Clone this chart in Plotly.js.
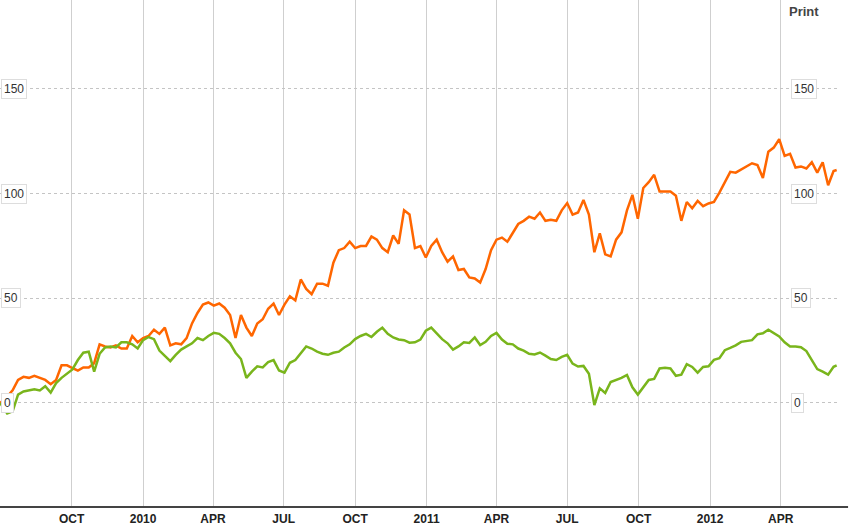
<!DOCTYPE html>
<html>
<head>
<meta charset="utf-8">
<script src="https://cdn.plot.ly/plotly-3.0.1.min.js"></script>
<style>
html,body{margin:0;padding:0;background:#fff;}
#chart{width:850px;height:530px;}
</style>
</head>
<body>
<div id="chart"></div>
<script>
var dates = [
'2009-07-01','2009-07-10','2009-07-17','2009-07-24','2009-07-31',
'2009-08-07','2009-08-14','2009-08-21','2009-08-28',
'2009-09-04','2009-09-11','2009-09-18','2009-09-25',
'2009-10-02','2009-10-09','2009-10-16','2009-10-23','2009-10-30',
'2009-11-06','2009-11-13','2009-11-20','2009-11-27',
'2009-12-04','2009-12-11','2009-12-18','2009-12-25',
'2010-01-01','2010-01-08','2010-01-15','2010-01-22','2010-01-29',
'2010-02-05','2010-02-12','2010-02-19','2010-02-26',
'2010-03-05','2010-03-12','2010-03-19','2010-03-26',
'2010-04-02','2010-04-09','2010-04-16','2010-04-23','2010-04-30',
'2010-05-07','2010-05-14','2010-05-21','2010-05-28',
'2010-06-04','2010-06-11','2010-06-18','2010-06-25',
'2010-07-02','2010-07-09','2010-07-16','2010-07-23','2010-07-30',
'2010-08-06','2010-08-13','2010-08-20','2010-08-27',
'2010-09-03','2010-09-10','2010-09-17','2010-09-24',
'2010-10-01','2010-10-08','2010-10-15','2010-10-22','2010-10-29',
'2010-11-05','2010-11-12','2010-11-19','2010-11-26',
'2010-12-03','2010-12-10','2010-12-17','2010-12-24','2010-12-31',
'2011-01-07','2011-01-14','2011-01-21','2011-01-28',
'2011-02-04','2011-02-11','2011-02-18','2011-02-25',
'2011-03-04','2011-03-11','2011-03-18','2011-03-25',
'2011-04-01','2011-04-08','2011-04-15','2011-04-22','2011-04-29',
'2011-05-06','2011-05-13','2011-05-20','2011-05-27',
'2011-06-03','2011-06-10','2011-06-17','2011-06-24',
'2011-07-01','2011-07-08','2011-07-15','2011-07-22','2011-07-29',
'2011-08-05','2011-08-12','2011-08-19','2011-08-26',
'2011-09-02','2011-09-09','2011-09-16','2011-09-23','2011-09-30',
'2011-10-07','2011-10-14','2011-10-21','2011-10-28',
'2011-11-04','2011-11-11','2011-11-18','2011-11-25',
'2011-12-02','2011-12-09','2011-12-16','2011-12-23','2011-12-30',
'2012-01-06','2012-01-13','2012-01-20','2012-01-27',
'2012-02-03','2012-02-10','2012-02-17','2012-02-24',
'2012-03-02','2012-03-09','2012-03-16','2012-03-23','2012-03-30',
'2012-04-06','2012-04-13','2012-04-20','2012-04-27',
'2012-05-04','2012-05-11','2012-05-18','2012-05-25',
'2012-06-01','2012-06-08','2012-06-12'
];

var orangeValues = [
0, 3, 6, 11, 12.5,
12, 13, 12, 11,
9, 11, 18, 18,
16.7, 15.5, 17, 17, 19,
28, 27, 26.5, 27.5,
26, 26, 32, 29,
31, 32, 35, 33, 36,
27.5, 28.5, 28, 31,
38, 43, 47, 48,
46.5, 47.5, 45.5, 42, 31,
42, 36, 32, 38,
40, 45, 47.5, 42,
47, 51, 49, 59, 54.5,
52, 57, 57, 56,
67, 73, 74, 77,
74, 75, 75, 79.5, 78,
74, 72, 80, 76,
92, 90, 74, 75, 69.5,
75, 78, 72, 67.5,
70, 63.5, 64, 60,
59.5, 57.5, 64, 73,
78, 79, 77, 81.5, 85.5,
87, 89, 88, 91,
87, 87.5, 87, 92,
95.5, 90, 91, 97, 90,
72, 81, 71, 70,
78, 81.5, 92, 99.4, 88,
102.7, 105.5, 109, 101,
101, 101, 99, 87,
96, 93, 96.5, 94, 95.3,
96, 100.5, 105.5, 110.4,
110, 111.5, 113, 114.5,
113.7, 107.5, 120, 122, 126,
118, 119, 112.5, 113,
112, 115, 110, 115,
104, 110.8, 111.3
];

var greenValues = [
0, -5, -4, 4, 5.5,
6, 6.5, 6, 8,
5, 9.5, 12, 14,
16, 20.5, 24, 24.5, 15,
23.5, 26.5, 27, 26.5,
29, 29, 28, 26,
30, 31.5, 30.5, 25, 22.5,
20, 23, 25.5, 27,
28.5, 31, 30, 32,
33.5, 33, 31, 28.5, 24,
21, 12, 15, 17.5,
17, 19.5, 20.5, 15.5,
14.5, 19.2, 20.5, 24, 27,
26, 24.5, 23.5, 23,
24, 24.5, 26.5, 28,
30.5, 32, 33, 31.5, 34,
36, 33, 31.3, 30.3,
30, 28.8, 29, 30.3, 34.5,
36, 33.3, 30.5, 28.5,
25.5, 27, 29, 28.7,
31.3, 27.7, 29.2, 32,
33.5, 30.3, 28.3, 28, 26,
25, 23.5, 23.2, 24.1,
22.6, 21, 20.5, 22,
23, 18.8, 17.4, 17.7, 14,
-1, 7, 4.8, 10,
11, 12, 13.4, 7.5, 4,
7.8, 11, 11.5, 16.5,
16.8, 16.5, 13, 13.5,
18.5, 17.2, 14.5, 17.2, 17.5,
20.6, 21.4, 25.2, 26.3,
27.5, 29.2, 29.7, 30,
32.8, 33.3, 35, 33.5, 31.8,
29, 27, 27, 26.6,
24.8, 20.8, 16.2, 15,
13.5, 17.3, 18
];

var tickDates = ['2009-10-01','2010-01-01','2010-04-01','2010-07-01','2010-10-01','2011-01-01','2011-04-01','2011-07-01','2011-10-01','2012-01-01','2012-04-01'];
var tickLabels = ['OCT','2010','APR','JUL','OCT','2011','APR','JUL','OCT','2012','APR'];
var yTicks = [0, 50, 100, 150];
var yTickLabels = ['0', '50', '100', '150'];

var traces = [
  {x: dates, y: orangeValues, type: 'scatter', mode: 'lines',
   line: {color: '#ff6600', width: 2.5}, hoverinfo: 'skip'},
  {x: dates, y: greenValues, type: 'scatter', mode: 'lines',
   line: {color: '#79b51c', width: 2.5}, hoverinfo: 'skip'}
];

var annotations = [];
yTicks.forEach(function(v, k){
  var base = {yref: 'y', y: v, xref: 'paper', xanchor: 'left', yanchor: 'middle',
    text: yTickLabels[k], showarrow: false, bgcolor: '#ffffff',
    bordercolor: '#dddddd', borderwidth: 1, borderpad: 2,
    font: {family: 'Liberation Sans, Arial, sans-serif', size: 12, color: '#333333'}};
  annotations.push(Object.assign({}, base, {x: 0, xshift: 1}));
  annotations.push(Object.assign({}, base, {x: 0.9436}));
});
annotations.push({xref: 'paper', yref: 'paper', x: 0.939, y: 1, xanchor: 'left', yanchor: 'top',
  yshift: -2, showarrow: false, text: '<b>Print</b>',
  font: {family: 'Liberation Sans, Arial, sans-serif', size: 13, color: '#444444'}});

var layout = {
  width: 850, height: 530,
  margin: {l: 0, r: 12, t: 0, b: 23, pad: 0},
  paper_bgcolor: '#ffffff', plot_bgcolor: '#ffffff',
  showlegend: false,
  xaxis: {
    type: 'date',
    range: ['2009-06-30 18:00', '2012-06-13 17:00'],
    tickmode: 'array', tickvals: tickDates,
    ticktext: tickLabels.map(function(t){ return '<b>' + t + '</b>'; }),
    showgrid: true, gridcolor: '#cfcfcf', gridwidth: 1,
    zeroline: false, showline: false, ticks: '',
    ticklabelstandoff: 3,
    tickfont: {family: 'Liberation Sans, Arial, sans-serif', size: 12, color: '#222222'},
    fixedrange: true
  },
  yaxis: {
    range: [-49.7, 192.5],
    tickmode: 'array', tickvals: yTicks,
    showticklabels: false,
    showgrid: true, gridcolor: '#c4c4c4', gridwidth: 1, griddash: 'dot',
    zeroline: false, showline: false, ticks: '',
    fixedrange: true
  },
  shapes: [
    {type: 'line', xref: 'paper', yref: 'paper', x0: 0, x1: 1.012, y0: 0, y1: 0,
     line: {color: '#444444', width: 2}}
  ],
  annotations: annotations
};

Plotly.newPlot('chart', traces, layout, {staticPlot: true, displayModeBar: false});
</script>
</body>
</html>
